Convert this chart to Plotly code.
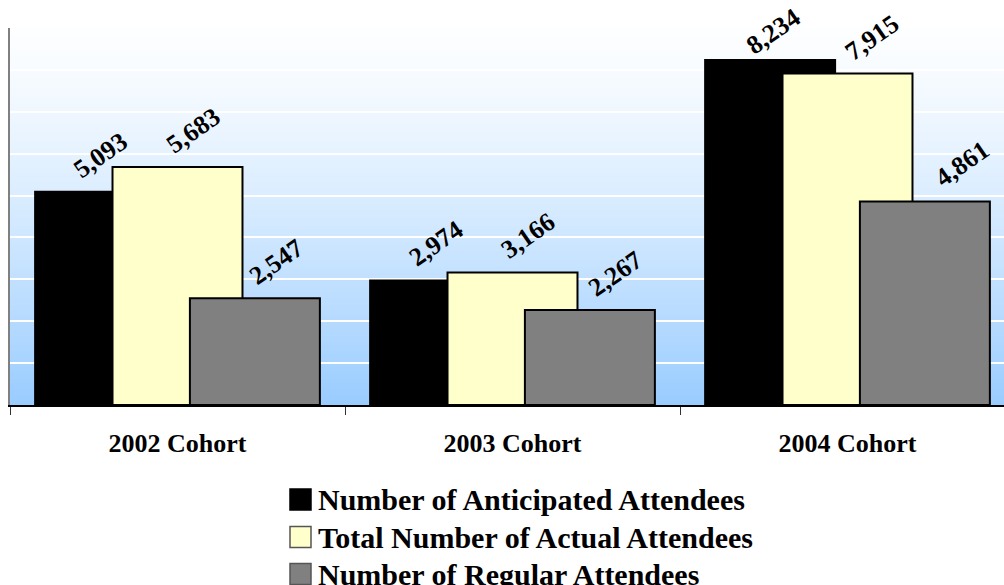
import plotly.graph_objects as go

# Cohort attendance figures
cohorts = ["2002 Cohort", "2003 Cohort", "2004 Cohort"]
series_names = [
    "Number of Anticipated Attendees",
    "Total Number of Actual Attendees",
    "Number of Regular Attendees",
]
anticipated = [5093, 2974, 8234]
actual = [5683, 3166, 7915]
regular = [2547, 2267, 4861]

# Styling
FONT = "'Liberation Serif', Tinos, 'Times New Roman', 'DejaVu Serif', serif"
fills = ["#000000", "#FFFFCC", "#808080"]
legend_borders = ["#000000", "#555555", "#555555"]
bar_width = 0.388
centre_offsets = [-0.231, 0.0, 0.231]
# pixel nudges (dx, dy) for the value labels, per series and cohort
label_nudge = [
    [(0, 5), (1, 5), (3, -3)],
    [(16, 5), (16, 5), (25, 4)],
    [(22, 5), (26, 5), (38, 6)],
]

W, H = 1004, 585
M_L, M_R, M_T, M_B = 10, 0, 28, 180
plot_w = W - M_L - M_R
plot_h = H - M_T - M_B
cat_px = 335.0
x_range = [-0.5, -0.5 + plot_w / cat_px]
y_max = 9000


def px_x(px):
    return (px - M_L) / plot_w


def px_y(py):
    return (H - M_B - py) / plot_h


fig = go.Figure()

values = [anticipated, actual, regular]
for name, vals, fill, off in zip(series_names, values, fills, centre_offsets):
    fig.add_trace(go.Bar(
        x=cohorts,
        y=vals,
        name=name,
        width=bar_width,
        offset=off - bar_width / 2,
        marker=dict(color=fill, line=dict(color="#000000", width=2)),
        showlegend=False,
        hoverinfo="skip",
    ))

# Rotated value labels above each bar
annotations = []
for vals, off, nudges in zip(values, centre_offsets, label_nudge):
    for i, v in enumerate(vals):
        dx, dy = nudges[i]
        annotations.append(dict(
            x=i + off, y=v, xref="x", yref="y",
            text=f"<b>{v:,}</b>",
            showarrow=False,
            textangle=-35,
            xanchor="center", yanchor="bottom",
            xshift=dx, yshift=dy,
            font=dict(family=FONT, size=26, color="#000000"),
        ))

# Vertical gradient behind the plot area (pale at the top, sky blue below)
shapes = []
n_strips = 120
top_rgb = (253, 254, 255)
bot_rgb = (153, 204, 255)
for k in range(n_strips):
    t_top = 1 - (k + 0.5) / n_strips          # 0 at top, 1 at bottom
    f = t_top ** 1.3
    r = round(top_rgb[0] + (bot_rgb[0] - top_rgb[0]) * f)
    g = round(top_rgb[1] + (bot_rgb[1] - top_rgb[1]) * f)
    b = round(top_rgb[2] + (bot_rgb[2] - top_rgb[2]) * f)
    shapes.append(dict(
        type="rect", xref="paper", yref="paper", layer="below",
        x0=0, x1=1, y0=k / n_strips, y1=min(1, (k + 1.6) / n_strips),
        fillcolor=f"rgb({r},{g},{b})", line=dict(width=0),
    ))

# Legend drawn as swatches and text below the chart
legend_rows_py = [499.5, 537, 574]
box = 21
for name, fill, border, cy in zip(series_names, fills, legend_borders, legend_rows_py):
    shapes.append(dict(
        type="rect", xref="paper", yref="paper", layer="above",
        x0=px_x(290), x1=px_x(290 + box),
        y0=px_y(cy + box / 2), y1=px_y(cy - box / 2),
        fillcolor=fill, line=dict(color=border, width=1.5),
    ))
    annotations.append(dict(
        x=px_x(316), y=px_y(cy), xref="paper", yref="paper",
        text=f"<b>{name}</b>", showarrow=False,
        xanchor="left", yanchor="middle",
        font=dict(family=FONT, size=30, color="#000000"),
    ))

fig.update_layout(
    width=W, height=H,
    margin=dict(l=M_L, r=M_R, t=M_T, b=M_B, pad=0),
    paper_bgcolor="#FFFFFF",
    plot_bgcolor="#FFFFFF",
    barmode="overlay",
    shapes=shapes,
    annotations=annotations,
    showlegend=False,
    xaxis=dict(
        type="category",
        range=x_range,
        tickson="boundaries",
        ticks="outside", ticklen=8, tickwidth=1, tickcolor="#333333",
        showline=True, linecolor="#000000", linewidth=2,
        showgrid=False,
        ticklabelstandoff=14,
        tickvals=cohorts,
        ticktext=[f"<b>{c}</b>" for c in cohorts],
        tickfont=dict(family=FONT, size=26, color="#000000"),
        fixedrange=True,
    ),
    yaxis=dict(
        range=[0, y_max],
        dtick=1000,
        showgrid=True, gridcolor="#FFFFFF", gridwidth=1.5,
        showline=True, linecolor="#808080", linewidth=1.5,
        showticklabels=False, ticks="",
        zeroline=False,
        fixedrange=True,
    ),
)

fig.write_html("out.html")
